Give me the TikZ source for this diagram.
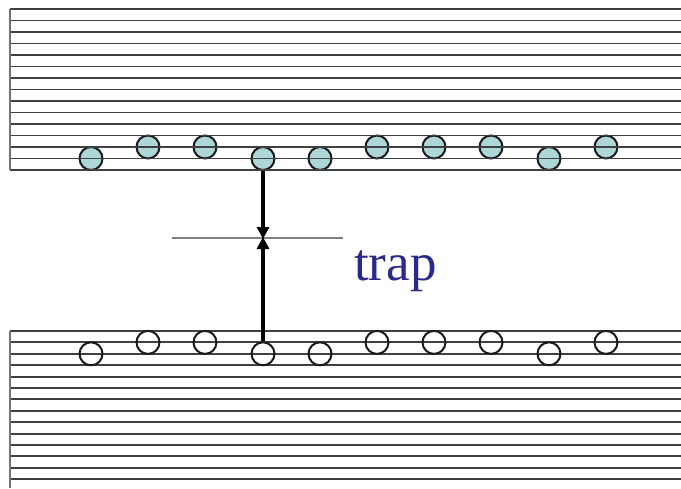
\documentclass[tikz,border=0pt]{standalone}
\usepackage{fontspec}
\setmainfont{Liberation Serif}
\usetikzlibrary{arrows.meta}
\definecolor{traptext}{RGB}{42,42,140}
\definecolor{tealfill}{RGB}{172,214,216}
\tikzset{
  hline/.style={draw=black!75, line width=1.9pt},
  vedge/.style={draw=black!55, line width=2pt},
  tcirc/.style={circle, draw=black!90, line width=2pt, fill=tealfill, minimum size=23pt, inner sep=0pt},
  bcirc/.style={circle, draw=black!90, line width=2pt, minimum size=23pt, inner sep=0pt},
  trapline/.style={draw=black!50, line width=2.2pt},
  thickarrow/.style={draw=black, line width=3.4pt, -{Triangle[length=12pt,width=12pt]}, shorten >=-1pt}
}
\begin{document}
\begin{tikzpicture}[x=1pt,y=-1pt]
\useasboundingbox (0,0) rectangle (681,488);
% top block circles (filled, below lines)
\foreach \n/\x/\y in {1/91/158.5, 2/148/147, 3/205/147, 4/263/158.5, 5/320/158.5, 6/377/147, 7/434/147, 8/491/147, 9/549/158.5, 10/606/147}
  \node[tcirc] (t\n) at (\x,\y) {};
% top block lines
\foreach \i in {0,...,14}
  \draw[hline] (10,{9+\i*11.5}) -- (681,{9+\i*11.5});
\draw[vedge] (10,9) -- (10,170);
% bottom block lines
\foreach \i in {0,...,13}
  \draw[hline] (10,{331+\i*11.4}) -- (681,{331+\i*11.4});
\draw[vedge] (10,331) -- (10,488);
% bottom block circles
\foreach \n/\x/\y in {1/91/353.8, 2/148/342.4, 3/205/342.4, 4/263/353.8, 5/320/353.8, 6/377/342.4, 7/434/342.4, 8/491/342.4, 9/549/353.8, 10/606/342.4}
  \node[bcirc] (b\n) at (\x,\y) {};
% trap level
\coordinate (tl) at (172,238);
\coordinate (tr) at (343,238);
\coordinate (trap) at (263,238);
\draw[trapline] (tl) -- (tr);
\draw[thickarrow] (t4.south) -- (trap);
\draw[thickarrow] (b4.north) -- (trap);
\node[anchor=base west, inner sep=0pt, text=traptext, font=\fontsize{53}{60}\selectfont] (label) at (354,280) {trap};
\end{tikzpicture}
\end{document}
